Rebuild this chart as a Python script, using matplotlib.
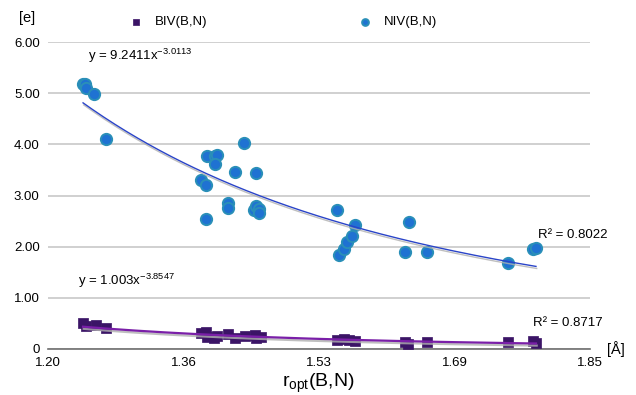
import numpy as np
import matplotlib
matplotlib.use("Agg")
import matplotlib.pyplot as plt
import matplotlib.patheffects as pe

# NIV(B,N) points (blue circles)
niv_x = [1.242, 1.244, 1.246, 1.255, 1.270, 1.383, 1.389, 1.390, 1.400, 1.403,
         1.400, 1.424, 1.435, 1.449, 1.389, 1.416, 1.416, 1.447, 1.449, 1.453,
         1.453, 1.546, 1.549, 1.555, 1.558, 1.565, 1.568, 1.633, 1.628, 1.654,
         1.752, 1.782, 1.785]
niv_y = [5.18, 5.18, 5.10, 4.98, 4.10, 3.30, 3.20, 3.77, 3.77, 3.80,
         3.62, 3.46, 4.03, 3.44, 2.54, 2.85, 2.76, 2.72, 2.80, 2.74,
         2.65, 2.72, 1.84, 1.95, 2.09, 2.21, 2.42, 2.48, 1.90, 1.90,
         1.68, 1.95, 1.97]

# BIV(B,N) points (purple squares)
biv_x = [1.242, 1.246, 1.257, 1.270, 1.384, 1.389, 1.391, 1.399, 1.403, 1.416,
         1.424, 1.436, 1.448, 1.449, 1.455, 1.547, 1.555, 1.561, 1.568, 1.628,
         1.632, 1.654, 1.752, 1.782, 1.785]
biv_y = [0.51, 0.45, 0.47, 0.41, 0.31, 0.33, 0.23, 0.21, 0.25, 0.29,
         0.21, 0.25, 0.27, 0.21, 0.24, 0.17, 0.19, 0.17, 0.16, 0.14,
         0.10, 0.14, 0.14, 0.15, 0.12]

# power trendlines shown on the chart
niv_a, niv_b, niv_r2 = 9.2411, -3.0113, 0.8022
biv_a, biv_b, biv_r2 = 1.003, -3.8547, 0.8717

x_ticks = [1.20, 1.3625, 1.525, 1.6875, 1.85]
x_tick_labels = ["1.20", "1.36", "1.53", "1.69", "1.85"]
y_ticks = [0, 1, 2, 3, 4, 5, 6]
y_tick_labels = ["0", "1.00", "2.00", "3.00", "4.00", "5.00", "6.00"]

plt.rcParams["font.family"] = ["Liberation Sans", "DejaVu Sans"]

fig = plt.figure(figsize=(6.36, 3.95), dpi=100)
ax = fig.add_axes([0.0755, 0.1165, 0.8525, 0.777])

blue_fill = "#1f72d2"
blue_edge = "#2a8fb8"
purple = "#3b1466"

ax.scatter(niv_x, niv_y, s=66, color=blue_fill, edgecolors=blue_edge,
           linewidths=1.4, zorder=3, label="NIV(B,N)")
ax.scatter(biv_x, biv_y, s=48, marker="s", color=purple, edgecolors=purple,
           linewidths=0.5, zorder=4, label="BIV(B,N)")

xs = np.linspace(min(niv_x), max(niv_x), 200)
shadow = [pe.SimpleLineShadow(offset=(0.5, -1.5), shadow_color="#b0b0b0", alpha=0.8), pe.Normal()]
ax.plot(xs, niv_a * xs ** niv_b, color="#2a44c8", lw=1.0, zorder=5, path_effects=shadow)
xs2 = np.linspace(min(biv_x), max(biv_x), 200)
ax.plot(xs2, biv_a * xs2 ** biv_b, color="#7a1fa8", lw=1.6, zorder=5, path_effects=shadow)

ax.set_xlim(1.20, 1.85)
ax.set_ylim(0, 6)
ax.set_xticks(x_ticks)
ax.set_xticklabels(x_tick_labels)
ax.set_yticks(y_ticks)
ax.set_yticklabels(y_tick_labels)
ax.tick_params(length=0, labelsize=9.5, pad=6)
ax.grid(axis="y", color="#c8c8c8", lw=1.2)
ax.set_axisbelow(True)
for s in ["left", "right", "top"]:
    ax.spines[s].set_visible(False)
ax.spines["bottom"].set_color("#707070")
ax.spines["bottom"].set_linewidth(1.2)

fs = 9.5
ax.text(1.248, 5.73, r"y = 9.2411x$^{\mathregular{-3.0113}}$", fontsize=fs, va="center")
ax.text(1.788, 2.23, "R² = 0.8022", fontsize=fs, va="center")
ax.text(1.236, 1.33, r"y = 1.003x$^{\mathregular{-3.8547}}$", fontsize=fs, va="center")
ax.text(1.781, 0.51, "R² = 0.8717", fontsize=fs, va="center")

fig.text(0.030, 0.944, "[e]", fontsize=10.5)
fig.text(0.955, 0.105, "[Å]", fontsize=10.5)
fig.text(0.50, 0.022, r"r$_{\mathregular{opt}}$(B,N)", fontsize=14, ha="center")

handles, labels = ax.get_legend_handles_labels()
fig.legend(handles[::-1], labels[::-1], loc="center", bbox_to_anchor=(0.44, 0.944),
           ncol=2, frameon=False, fontsize=9.5, columnspacing=11, handletextpad=0.4,
           markerscale=0.6)

fig.savefig("out.png", dpi=100)
